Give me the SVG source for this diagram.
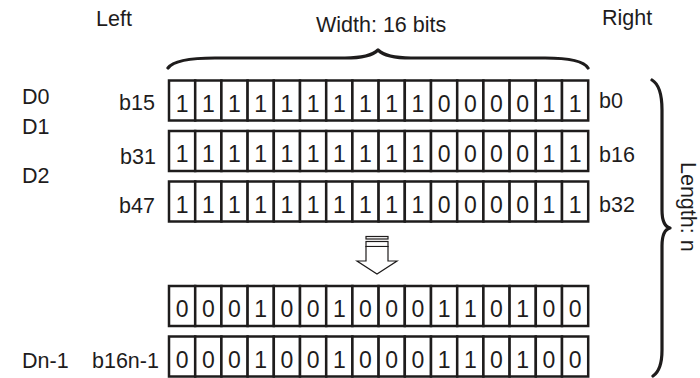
<svg xmlns="http://www.w3.org/2000/svg" xmlns:xlink="http://www.w3.org/1999/xlink" width="700" height="378" viewBox="0 0 700 378">
<style>
.cell{fill:#fff;stroke:#1e1c1c;stroke-width:2.5}
.bit{font-family:"Liberation Sans",Arial,sans-serif;font-size:23px;fill:#1e1c1c}
.lbl{font-family:"Liberation Sans",Arial,sans-serif;font-size:21.5px;fill:#1e1c1c}
.brace{fill:none;stroke:#1e1c1c;stroke-width:3.2;stroke-linecap:round;stroke-linejoin:round}
.arr{fill:#fff;stroke:#1e1c1c;stroke-width:1.2}
</style>
<defs>
<g id="cells">
<rect class="cell" x="169" y="0" width="26.2" height="40"/>
<rect class="cell" x="195.2" y="0" width="26.2" height="40"/>
<rect class="cell" x="221.4" y="0" width="26.2" height="40"/>
<rect class="cell" x="247.6" y="0" width="26.2" height="40"/>
<rect class="cell" x="273.8" y="0" width="26.2" height="40"/>
<rect class="cell" x="300" y="0" width="26.2" height="40"/>
<rect class="cell" x="326.2" y="0" width="26.2" height="40"/>
<rect class="cell" x="352.4" y="0" width="26.2" height="40"/>
<rect class="cell" x="378.6" y="0" width="26.2" height="40"/>
<rect class="cell" x="404.8" y="0" width="26.2" height="40"/>
<rect class="cell" x="431" y="0" width="26.2" height="40"/>
<rect class="cell" x="457.2" y="0" width="26.2" height="40"/>
<rect class="cell" x="483.4" y="0" width="26.2" height="40"/>
<rect class="cell" x="509.6" y="0" width="26.2" height="40"/>
<rect class="cell" x="535.8" y="0" width="26.2" height="40"/>
<rect class="cell" x="562" y="0" width="26.2" height="40"/>
</g>
</defs>
<rect width="700" height="378" fill="#fff"/>

<g id="headers">
<text class="lbl" x="96" y="26">Left</text>
<text class="lbl" x="316" y="31.5">Width: 16 bits</text>
<text class="lbl" x="602" y="25">Right</text>
</g>

<g id="width-brace">
<path class="brace" d="M168,68 Q175,58 215,58 L345,58 Q370,58 378,50 Q386,58 411,58 L545,58 Q582,58 588,68"/>
</g>

<g id="length-brace">
<path class="brace" d="M652,80 Q662,86 662,110 L662,210 Q662,226 670,228 Q662,230 662,246 L662,350 Q662,370 653,376"/>
<text class="lbl" transform="translate(681,162) rotate(90)">Length: n</text>
</g>

<g id="row-d0">
<text class="lbl" x="22" y="104">D0</text>
<text class="lbl" x="119" y="109.5">b15</text>
<use xlink:href="#cells" href="#cells" transform="translate(0,80.5)"/>
<text class="bit" text-anchor="middle" y="111.5" x="182.1 208.3 234.5 260.7 286.9 313.1 339.3 365.5 391.7 417.9 444.1 470.3 496.5 522.7 548.9 575.1">1111111111000011</text>
<text class="lbl" x="599" y="108">b0</text>
</g>

<g id="row-d1">
<text class="lbl" x="22" y="134">D1</text>
<text class="lbl" x="120" y="164">b31</text>
<use xlink:href="#cells" href="#cells" transform="translate(0,131)"/>
<text class="bit" text-anchor="middle" y="162" x="182.1 208.3 234.5 260.7 286.9 313.1 339.3 365.5 391.7 417.9 444.1 470.3 496.5 522.7 548.9 575.1">1111111111000011</text>
<text class="lbl" x="599" y="162">b16</text>
</g>

<g id="row-d2">
<text class="lbl" x="22" y="183">D2</text>
<text class="lbl" x="119" y="212.5">b47</text>
<use xlink:href="#cells" href="#cells" transform="translate(0,181.5)"/>
<text class="bit" text-anchor="middle" y="212.5" x="182.1 208.3 234.5 260.7 286.9 313.1 339.3 365.5 391.7 417.9 444.1 470.3 496.5 522.7 548.9 575.1">1111111111000011</text>
<text class="lbl" x="599" y="212">b32</text>
</g>

<g id="row-result">
<use xlink:href="#cells" href="#cells" transform="translate(0,286)"/>
<text class="bit" text-anchor="middle" y="317" x="182.1 208.3 234.5 260.7 286.9 313.1 339.3 365.5 391.7 417.9 444.1 470.3 496.5 522.7 548.9 575.1">0001001000110100</text>
</g>

<g id="row-dn1">
<text class="lbl" x="22" y="368">Dn-1</text>
<text class="lbl" x="92" y="368">b16n-1</text>
<use xlink:href="#cells" href="#cells" transform="translate(0,336.5)"/>
<text class="bit" text-anchor="middle" y="367.5" x="182.1 208.3 234.5 260.7 286.9 313.1 339.3 365.5 391.7 417.9 444.1 470.3 496.5 522.7 548.9 575.1">0001001000110100</text>
</g>

<g id="connectors">
<rect class="arr" x="366" y="236.5" width="22" height="2.5"/>
<rect class="arr" x="366" y="241.5" width="22" height="5"/>
<path class="arr" d="M366,246.5 L388,246.5 L388,261 L397,261 L377,274 L357,261 L366,261 Z"/>
</g>
</svg>
